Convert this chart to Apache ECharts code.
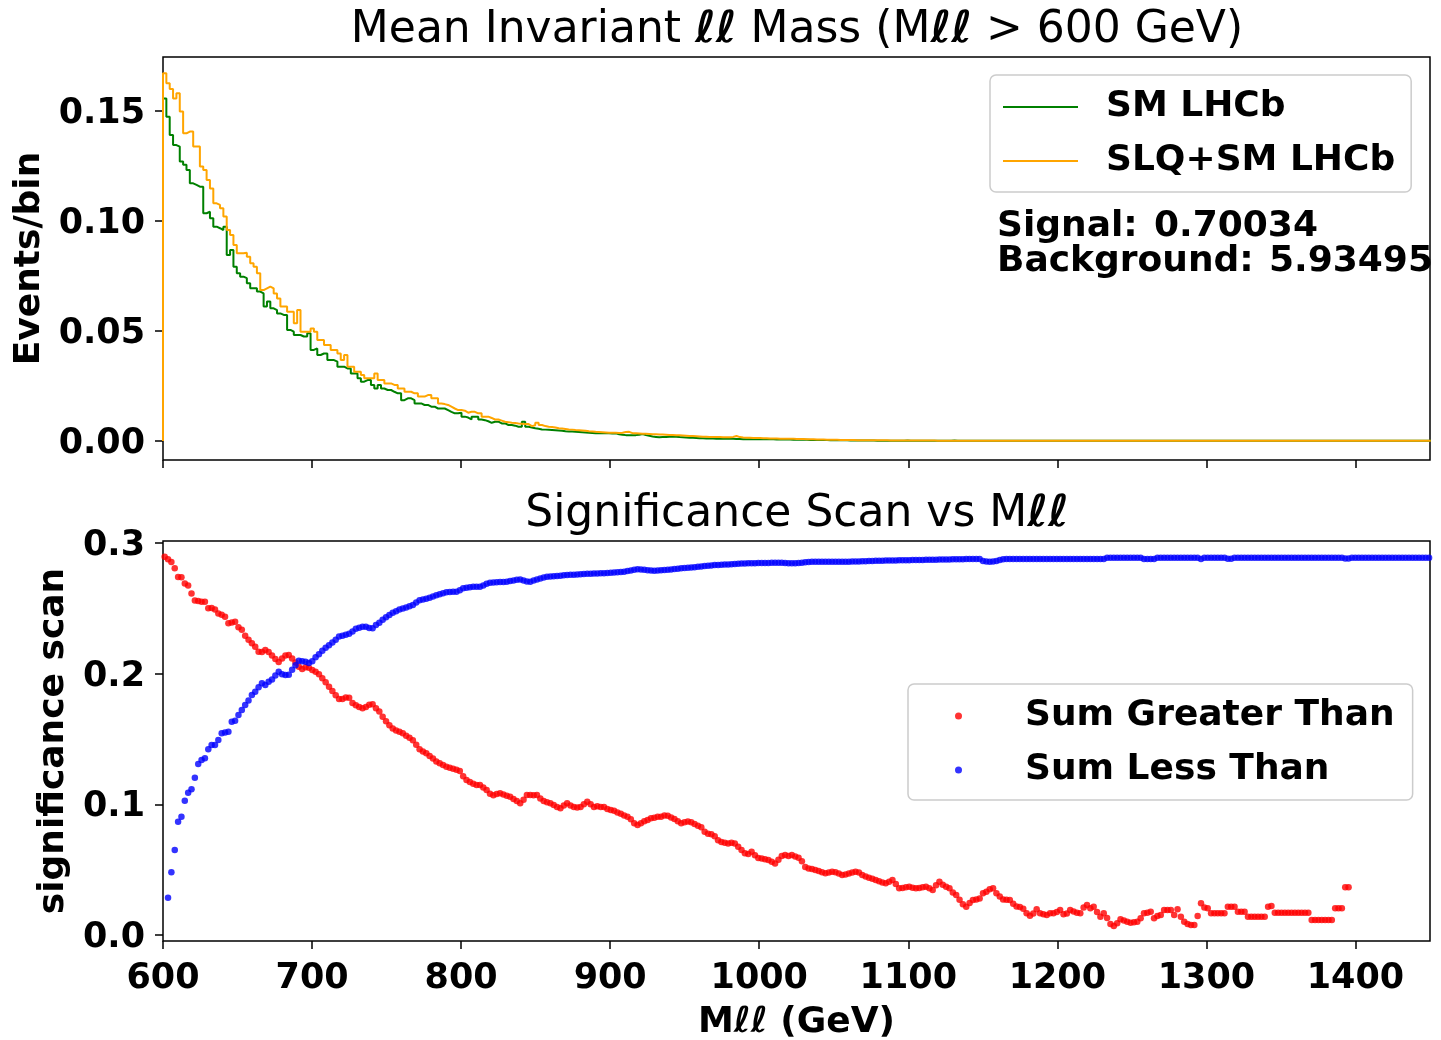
<!DOCTYPE html>
<html>
<head>
<meta charset="utf-8">
<script src="https://cdn.jsdelivr.net/npm/echarts@6/dist/echarts.min.js"></script>
<style>
  html, body { margin: 0; padding: 0; background: #fff; }
  #chart { width: 1441px; height: 1040px; }
</style>
</head>
<body>
<div id="chart"></div>
<script>
// ---------------- DATA ----------------
const histStart = 600;      // first bin edge (GeV)
const binWidth = 2.25;      // bin width (GeV)

// SM LHCb histogram (events per bin), bins from 600 GeV
const smLHCb = [
  .1557,.1474,.1391,.1345,.1338,.127,.1255,.1232,.1171,.1164,
  .1156,.1156,.1035,.1042,.1012,.0974,.0967,.0959,.0974,.0845,
  .0868,.0792,.0762,.0747,.074,.0717,.0694,.0694,.0679,.0671,
  .0611,.0634,.0603,.0595,.058,.0573,.0573,.0505,.0497,.0482,
  .0482,.0475,.0475,.049,.0414,.0421,.0391,.0398,.0398,.0368,
  .0368,.0361,.0338,.0338,.033,.033,.0307,.0307,.0285,.027,
  .0277,.0277,.0255,.0239,.0255,.0239,.0232,.0232,.0224,.0217,
  .0217,.0186,.0194,.0194,.0186,.0171,.0171,.0164,.0164,.0156,
  .0156,.0148,.0148,.0148,.0141,.0133,.0126,.0126,.0129,.0111,
  .0107,.0098,.0111,.0111,.0098,.0095,.009,.0083,.0088,.0088,
  .008,.008,.0073,.0073,.007,.0065,.0065,.0088,.0065,.0062,
  .0058,.0056,.0053,.0052,.0051,.005,.0049,.0048,.0047,.0045,
  .0044,.0043,.0042,.0041,.004,.0039,.0038,.0037,.0036,.0035,
  .0035,.0035,.0035,.0034,.0035,.0031,.0029,.0027,.0027,.0027,
  .0027,.0029,.0032,.0027,.0024,.0021,.0019,.0017,.0018,.0019,
  .002,.002,.002,.0018,.0017,.0016,.0015,.0015,.0014,.0013,
  .0013,.0012,.0012,.0012,.0011,.0011,.0011,.0011,.001,.001,
  .0009,.0009,.0008,.0008,.0008,.0008,.0008,.0008,.0008,.0008,
  .0008,.0008,.0007,.0007,.0007,.0007,.0007,.0006,.0006,.0006,
  .0006,.0006,.0005,.0005,.0005,.0005,.0005,.0005,.0004,.0004,
  .0004,.0004,.0004,.0004,.0003,.0003,.0003,.0003,.0003,.0003,
  .0003,.0003,.0002,.0002,.0002,.0002,.0002,.0002,.0002,.0002,
  .0002,.0003,.0002,.0002,.0002,.0002,.0002,.0002,.0002,.0002,
  .0002,.0002,.0002,.0002,.0002,.0003,.0002,.0002,.0002,.0002,
  .0002,.0002,.0002,.0002,.0002,.0002,.0001,.0002,.0002,.0002,
  .0001,.0001,.0001,.0001,.0002,.0001,.0001,.0001,.0001,.0001,
  .0001,.0001,.0001,.0001,.0001,.0001,.0001,.0002,.0001,.0001,
  .0001,.0001,.0001,.0001,.0001,.0001,.0001,.0001,.0001,.0001,
  .0001,.0001,.0001,.0001,.0001,.0001,.0001,.0001,.0001,.0001,
  .0001,.0001,.0001,.0001,.0001,.0001,.0001,.0001,.0001,.0001,
  .0001,.0001,.0001,.0001,.0001,.0001,.0001,.0001,.0001,.0001,
  .0001,.0001,.0001,.0001,.0001,.0001,.0001,.0001,.0001,.0001,
  .0001,.0001,.0001,.0001,.0001,.0001,.0001,.0001,.0001,.0001,
  .0001,.0001,.0001,.0001,.0001,.0001,.0001,.0001,.0001,.0001,
  .0001,.0001,.0001,.0001,.0001,.0001,.0001,.0001,.0001,.0001,
  .0001,.0001,.0001,.0001,.0001,.0001,.0001,.0001,.0001,.0001,
  .0001,.0001,.0001,.0001,.0001,.0001,.0001,.0001,.0001,.0001,
  .0001,.0001,.0001,.0001,.0001,.0001,.0001,.0001
];

// SLQ+SM LHCb histogram (events per bin), same bins
const slqLHCb = [
  .1671,.1626,.160,.1557,.158,.1497,.1398,.1406,.1406,.1338,
  .1338,.1247,.1232,.1186,.1148,.108,.1073,.1058,.102,.0959,
  .0936,.0891,.0853,.0853,.0856,.0838,.0808,.0792,.0762,.0686,
  .0694,.0702,.0694,.0671,.0648,.0611,.0611,.0588,.0588,.0535,
  .0595,.0497,.0497,.0497,.0512,.0497,.0459,.0459,.0436,.0436,
  .0414,.0414,.0398,.0368,.0391,.0338,.0338,.0315,.0315,.030,
  .0285,.0285,.0285,.0307,.0277,.0277,.0262,.0262,.0255,.0255,
  .0239,.0239,.0224,.0224,.0217,.0217,.0202,.0202,.0209,.0209,
  .0194,.0194,.0171,.0168,.0164,.0156,.0148,.0141,.0141,.0138,
  .0129,.0133,.0133,.0126,.0126,.0111,.0111,.0105,.0098,.0098,
  .0093,.0088,.0086,.0083,.0082,.008,.0079,.0077,.0077,.0068,
  .0072,.0083,.0073,.0068,.0065,.0064,.0062,.0058,.0057,.0055,
  .0053,.0052,.005,.0049,.0048,.0047,.0045,.0044,.0042,.0041,
  .004,.0039,.0038,.0038,.0038,.0037,.0038,.0041,.0042,.0036,
  .0035,.0034,.0033,.0033,.0032,.0031,.0031,.003,.003,.0029,
  .0028,.0028,.0027,.0026,.0025,.0024,.0023,.0023,.0022,.0021,
  .002,.002,.0019,.0018,.0018,.0018,.0017,.0017,.0017,.0019,
  .0023,.0018,.0016,.0015,.0015,.0014,.0014,.0014,.0013,.0013,
  .0012,.0012,.0012,.0011,.0011,.001,.001,.001,.0009,.0009,
  .0009,.0008,.0008,.0008,.0007,.0007,.0007,.0006,.0006,.0006,
  .0006,.0005,.0005,.0005,.0005,.0005,.0004,.0004,.0004,.0004,
  .0004,.0004,.0004,.0004,.0004,.0004,.0003,.0003,.0003,.0003,
  .0003,.0003,.0003,.0003,.0003,.0003,.0003,.0003,.0003,.0003,
  .0002,.0002,.0002,.0002,.0002,.0002,.0002,.0002,.0002,.0002,
  .0002,.0002,.0002,.0002,.0002,.0002,.0002,.0002,.0002,.0002,
  .0002,.0002,.0002,.0002,.0002,.0002,.0002,.0002,.0002,.0002,
  .0002,.0002,.0001,.0001,.0001,.0001,.0001,.0001,.0001,.0001,
  .0001,.0001,.0001,.0001,.0001,.0001,.0001,.0001,.0001,.0001,
  .0001,.0001,.0001,.0001,.0001,.0001,.0001,.0001,.0001,.0001,
  .0001,.0001,.0001,.0001,.0001,.0001,.0001,.0001,.0001,.0001,
  .0001,.0001,.0001,.0001,.0001,.0001,.0001,.0001,.0001,.0001,
  .0001,.0001,.0001,.0001,.0001,.0001,.0001,.0001,.0001,.0001,
  .0001,.0001,.0001,.0001,.0001,.0001,.0001,.0001,.0001,.0001,
  .0001,.0001,.0001,.0001,.0001,.0001,.0001,.0001,.0001,.0001,
  .0001,.0001,.0001,.0001,.0001,.0001,.0001,.0001,.0001,.0001,
  .0001,.0001,.0001,.0001,.0001,.0001,.0001,.0001,.0001,.0001,
  .0001,.0001,.0001,.0001,.0001,.0001,.0001,.0001,.0001,.0001,
  .0001,.0001,.0001,.0001,.0001,.0001,.0001,.0001
];

// Significance scan, one point per bin (bin centres), "Sum Greater Than"
const sumGreater = [
  .2894,.2875,.2855,.2806,.274,.2737,.269,.2675,.2614,.256,
  .2555,.255,.255,.25,.2502,.249,.246,.245,.2435,.2385,
  .2392,.2397,.2355,.2335,.229,.226,.2232,.2205,.2168,.2165,
  .218,.2165,.2138,.2112,.209,.2115,.2138,.2142,.2115,.2085,
  .2052,.2035,.2048,.2045,.2027,.2015,.1995,.1965,.1935,.19,
  .1868,.1835,.1805,.1805,.1818,.1815,.1775,.1758,.1745,.1735,
  .1745,.1762,.1765,.1735,.171,.167,.1635,.1605,.158,.1565,
  .1555,.1543,.1525,.151,.149,.1455,.1422,.1405,.139,.137,
  .135,.1328,.1315,.13,.1288,.128,.1272,.1265,.1255,.1215,
  .1186,.117,.1158,.1148,.1148,.1128,.111,.108,.107,.1078,
  .1084,.1075,.1065,.1058,.104,.1025,.1008,.1035,.1071,.1071,
  .107,.1071,.1045,.1025,.1015,.1008,.0995,.098,.097,.099,
  .1008,.099,.098,.0975,.098,.1,.102,.1,.098,.0985,
  .098,.098,.0965,.0956,.095,.0938,.0928,.0915,.0905,.0885,
  .0855,.0842,.0855,.087,.088,.0893,.0898,.0905,.0905,.0915,
  .0912,.09,.0888,.087,.0855,.0862,.0868,.0862,.085,.0835,
  .0825,.079,.0775,.077,.0755,.0725,.0712,.0705,.0701,.0705,
  .0701,.0675,.065,.0625,.062,.0637,.061,.059,.0585,.058,
  .0574,.056,.0548,.0575,.0605,.0612,.0605,.0612,.06,.0592,
  .0565,.052,.0508,.0505,.0497,.049,.048,.0472,.0478,.0484,
  .048,.047,.0459,.0462,.047,.0478,.0484,.0478,.046,.0448,
  .0438,.043,.0421,.0412,.0402,.0395,.0408,.0421,.039,.0357,
  .036,.0365,.037,.0362,.0357,.036,.0365,.037,.0358,.0344,
  .038,.0408,.0385,.037,.0357,.0325,.0306,.027,.0235,.0217,
  .0245,.0268,.0272,.028,.0319,.033,.035,.0357,.0319,.0295,
  .0272,.027,.0268,.024,.0218,.0215,.02,.0166,.0148,.0165,
  .0197,.0166,.0158,.0153,.0166,.0166,.0175,.0191,.0158,.0165,
  .0191,.018,.0171,.0166,.021,.023,.0204,.0217,.0175,.014,
  .0166,.013,.0085,.0069,.009,.012,.011,.0102,.0094,.0098,
  .0102,.0128,.0166,.017,.0178,.0128,.0145,.0153,.0191,.0191,
  .0191,.0153,.0197,.014,.0102,.0085,.0077,.0077,.0145,.0243,
  .021,.0204,.0166,.0166,.0166,.0166,.0166,.0217,.0217,.0217,
  .0178,.0178,.0178,.014,.014,.014,.014,.014,.014,.0217,
  .0222,.0171,.0171,.0171,.0171,.0171,.0171,.0171,.0171,.0171,
  .0171,.0171,.0115,.0115,.0115,.0115,.0115,.0115,.0115,.0204,
  .0204,.0204,.0365,.0365
];

// Significance scan, "Sum Less Than" (first bin has no point)
const sumLess = [
  null,.0285,.048,.065,.0867,.0905,.1028,.1089,.1115,.1204,
  .1308,.1339,.1352,.1421,.1454,.1454,.1492,.1543,.155,.1555,
  .1632,.164,.1683,.1722,.176,.1795,.1836,.1862,.1895,.1926,
  .1913,.1938,.1955,.1985,.2015,.1995,.1989,.1992,.203,.2065,
  .2099,.2095,.2091,.2082,.2095,.2125,.2148,.2175,.2198,.2218,
  .2238,.226,.2285,.229,.2297,.2305,.2322,.2343,.2352,.2359,
  .2358,.235,.2348,.2372,.239,.2412,.2432,.2448,.2465,.2478,
  .249,.2498,.2507,.2515,.2525,.2545,.2562,.2568,.2574,.258,
  .259,.26,.2608,.2615,.2622,.2624,.2626,.2627,.2638,.2653,
  .2658,.2662,.2665,.2665,.2665,.2675,.2688,.2696,.2698,.27,
  .2701,.2702,.2703,.2708,.2713,.2718,.2721,.2712,.2705,.2703,
  .2712,.272,.2728,.2736,.2741,.2743,.2746,.2748,.275,.2752,
  .2754,.2756,.2757,.2758,.276,.2762,.2764,.2765,.2766,.2767,
  .2768,.2769,.277,.2772,.2774,.2776,.2778,.278,.2785,.279,
  .2795,.2798,.2797,.2795,.2792,.2789,.2787,.2789,.2791,.2793,
  .2795,.2797,.28,.2803,.2806,.2808,.281,.2812,.2815,.2818,
  .282,.2823,.2826,.2828,.2831,.2832,.2833,.2835,.2836,.2838,
  .2839,.284,.2842,.2843,.2844,.2845,.2845,.2846,.2846,.2847,
  .2847,.2848,.2848,.2848,.2848,.2846,.2845,.2844,.2844,.2846,
  .2849,.2852,.2854,.2856,.2856,.2856,.2856,.2856,.2856,.2856,
  .2856,.2856,.2856,.2856,.2857,.2858,.2858,.2859,.286,.286,
  .2861,.2862,.2863,.2864,.2864,.2865,.2865,.2866,.2866,.2867,
  .2867,.2868,.2868,.2869,.2869,.287,.287,.2871,.2871,.2872,
  .2872,.2873,.2873,.2874,.2874,.2875,.2875,.2876,.2876,.2877,
  .2877,.2877,.2877,.2877,.2862,.2858,.2856,.2858,.2862,.2869,
  .2875,.2878,.2878,.2878,.2878,.2878,.2878,.2878,.2878,.2878,
  .2878,.2878,.2878,.2878,.2878,.2878,.2878,.2878,.2878,.2878,
  .2878,.2878,.2878,.2878,.2878,.2878,.2878,.2878,.2878,.2878,
  .2878,.2886,.2886,.2886,.2886,.2886,.2886,.2886,.2886,.2886,
  .2886,.2886,.2877,.2877,.2877,.2877,.2886,.2886,.2886,.2886,
  .2886,.2886,.2886,.2886,.2886,.2886,.2886,.2886,.2886,.2878,
  .2886,.2886,.2886,.2886,.2886,.2886,.2886,.2879,.2879,.2887,
  .2887,.2887,.2887,.2887,.2887,.2887,.2887,.2887,.2887,.2887,
  .2887,.2887,.2887,.2887,.2887,.2887,.2887,.2887,.2887,.2887,
  .2887,.2887,.2887,.2887,.2887,.2887,.2887,.2887,.2887,.2887,
  .2887,.2887,.2881,.2881,.2887,.2887,.2887,.2887,.2887,.2887,
  .2887,.2887,.2887,.2887,.2887,.2887,.2887,.2887,.2887,.2887,
  .2887,.2887,.2887,.2887,.2887,.2887,.2887,.2887
];

// Tick labels
const xTicks = [600, 700, 800, 900, 1000, 1100, 1200, 1300, 1400];
const topYTicks = [0, 0.05, 0.10, 0.15];
const bottomYTicks = [0, 0.1, 0.2, 0.3];

const signalValue = '0.70034';
const backgroundValue = '5.93495';

// ---------------- BUILD ----------------
function histPoints(vals) {
  const pts = [[histStart, 0]];
  vals.forEach((v, i) => pts.push([histStart + binWidth * i, v]));
  pts.push([histStart + binWidth * vals.length, vals[vals.length - 1]]);
  return pts;
}
function scanPoints(vals) {
  const pts = [];
  vals.forEach((v, i) => { if (v !== null) pts.push([histStart + binWidth * (i + 0.5), v]); });
  return pts;
}

const FONT = 'DejaVu Sans';
const tickLabelStyle = { fontSize: 35, fontWeight: 'bold', color: '#000', fontFamily: FONT };
const yTickRich = { t: { fontSize: 35, fontWeight: 'bold', color: '#000', fontFamily: FONT, padding: [6, 0, 0, 0] } };
const tickStyle = { show: true, inside: false, length: 8, lineStyle: { color: '#000', width: 1.5 } };
const ellRich = { l: { fontSize: 44, fontStyle: 'italic', fontWeight: 'bold', fontFamily: FONT, color: '#000' } };
const ellRichAxis = { l: { fontSize: 36, fontStyle: 'italic', fontWeight: 'bold', fontFamily: FONT, color: '#000' } };
const boldText = { fontSize: 36, fontWeight: 'bold', fontFamily: FONT, fill: '#000', verticalAlign: 'middle', align: 'left' };

const chart = echarts.init(document.getElementById('chart'), null, { renderer: 'canvas' });
chart.setOption({
  animation: false,
  backgroundColor: '#ffffff',
  textStyle: { fontFamily: FONT },
  title: [
    {
      text: 'Mean Invariant {l|ℓℓ} Mass (M{l|ℓℓ} > 600 GeV)',
      left: 797, top: 9, textAlign: 'center', padding: 0,
      textStyle: { fontSize: 44, fontWeight: 'normal', color: '#000', fontFamily: FONT, rich: ellRich }
    },
    {
      text: 'Significance Scan vs M{l|ℓℓ}',
      left: 797, top: 493, textAlign: 'center', padding: 0,
      textStyle: { fontSize: 44, fontWeight: 'normal', color: '#000', fontFamily: FONT, rich: ellRich }
    }
  ],
  grid: [
    { left: 163, top: 57, width: 1267, height: 403, show: true, borderColor: '#000', borderWidth: 1.5, backgroundColor: 'transparent', outerBoundsMode: 'none' },
    { left: 163, top: 541, width: 1267, height: 400, show: true, borderColor: '#000', borderWidth: 1.5, backgroundColor: 'transparent', outerBoundsMode: 'none' }
  ],
  xAxis: [
    {
      gridIndex: 0, type: 'value', min: 600, max: 1450,
      axisLine: { show: false, onZero: false },
      axisTick: Object.assign({ customValues: xTicks }, tickStyle),
      axisLabel: { show: false, customValues: xTicks },
      splitLine: { show: false }
    },
    {
      gridIndex: 1, type: 'value', min: 600, max: 1450,
      axisLine: { show: false, onZero: false },
      axisTick: Object.assign({ customValues: xTicks }, tickStyle),
      axisLabel: Object.assign({ show: true, customValues: xTicks, margin: 20, formatter: v => String(Math.round(v)) }, tickLabelStyle),
      splitLine: { show: false },
      name: 'M{l|ℓℓ} (GeV)', nameLocation: 'middle', nameGap: 64,
      nameTextStyle: { fontSize: 36, fontWeight: 'bold', color: '#000', fontFamily: FONT, rich: ellRichAxis }
    }
  ],
  yAxis: [
    {
      gridIndex: 0, type: 'value', min: -0.0086, max: 0.1745,
      axisLine: { show: false, onZero: false },
      axisTick: Object.assign({ customValues: topYTicks }, tickStyle),
      axisLabel: Object.assign({ customValues: topYTicks, margin: 18, formatter: v => '{t|' + v.toFixed(2) + '}', rich: yTickRich }, tickLabelStyle),
      splitLine: { show: false },
      name: 'Events/bin', nameLocation: 'middle', nameRotate: 90, nameGap: 102,
      nameTextStyle: { fontSize: 36, fontWeight: 'bold', color: '#000', fontFamily: FONT }
    },
    {
      gridIndex: 1, type: 'value', min: -0.0046, max: 0.3015,
      axisLine: { show: false, onZero: false },
      axisTick: Object.assign({ customValues: bottomYTicks }, tickStyle),
      axisLabel: Object.assign({ customValues: bottomYTicks, margin: 18, formatter: v => '{t|' + v.toFixed(1) + '}', rich: yTickRich }, tickLabelStyle),
      splitLine: { show: false },
      name: 'significance scan', nameLocation: 'middle', nameRotate: 90, nameGap: 84,
      nameTextStyle: { fontSize: 36, fontWeight: 'bold', color: '#000', fontFamily: FONT }
    }
  ],
  legend: [
    {
      data: ['SM LHCb', 'SLQ+SM LHCb'],
      orient: 'vertical', left: 990, top: 75,
      icon: 'rect', symbolKeepAspect: false,
      itemWidth: 75, itemHeight: 2, itemGap: 14,
      padding: [12, 16, 11, 13],
      borderColor: '#cccccc', borderWidth: 1.5, borderRadius: 6,
      backgroundColor: 'rgba(255,255,255,0.8)',
      selectedMode: false,
      textStyle: { fontSize: 36, fontWeight: 'bold', color: '#000', fontFamily: FONT, lineHeight: 40, padding: [0, 0, 0, 23] }
    },
    {
      data: ['Sum Greater Than', 'Sum Less Than'],
      orient: 'vertical', left: 908, top: 684,
      icon: 'circle',
      itemWidth: 7, itemHeight: 7, itemGap: 14,
      padding: [12, 18, 10, 47],
      borderColor: '#cccccc', borderWidth: 1.5, borderRadius: 6,
      backgroundColor: 'rgba(255,255,255,0.8)',
      selectedMode: false,
      textStyle: { fontSize: 36, fontWeight: 'bold', color: '#000', fontFamily: FONT, lineHeight: 40, padding: [0, 0, 0, 58] }
    }
  ],
  series: [
    {
      name: 'SM LHCb', type: 'line', xAxisIndex: 0, yAxisIndex: 0,
      data: histPoints(smLHCb), step: 'end', symbol: 'none', showSymbol: false,
      lineStyle: { color: '#008000', width: 2 }, itemStyle: { color: '#008000' }, clip: true
    },
    {
      name: 'SLQ+SM LHCb', type: 'line', xAxisIndex: 0, yAxisIndex: 0,
      data: histPoints(slqLHCb), step: 'end', symbol: 'none', showSymbol: false,
      lineStyle: { color: '#FFA500', width: 2 }, itemStyle: { color: '#FFA500' }, clip: true
    },
    {
      name: 'Sum Greater Than', type: 'scatter', xAxisIndex: 1, yAxisIndex: 1,
      data: scanPoints(sumGreater), symbol: 'circle', symbolSize: 6.5,
      itemStyle: { color: '#FF0000', opacity: 0.8 }
    },
    {
      name: 'Sum Less Than', type: 'scatter', xAxisIndex: 1, yAxisIndex: 1,
      data: scanPoints(sumLess), symbol: 'circle', symbolSize: 6.5,
      itemStyle: { color: '#0000FF', opacity: 0.8 }
    }
  ],
  graphic: [
    { type: 'text', x: 997, y: 227, z: 100, style: Object.assign({ text: 'Signal:' }, boldText) },
    { type: 'text', x: 1154, y: 227, z: 100, style: Object.assign({ text: signalValue }, boldText) },
    { type: 'text', x: 997, y: 262, z: 100, style: Object.assign({ text: 'Background:' }, boldText) },
    { type: 'text', x: 1269, y: 262, z: 100, style: Object.assign({ text: backgroundValue }, boldText) }
  ]
});
</script>
</body>
</html>
